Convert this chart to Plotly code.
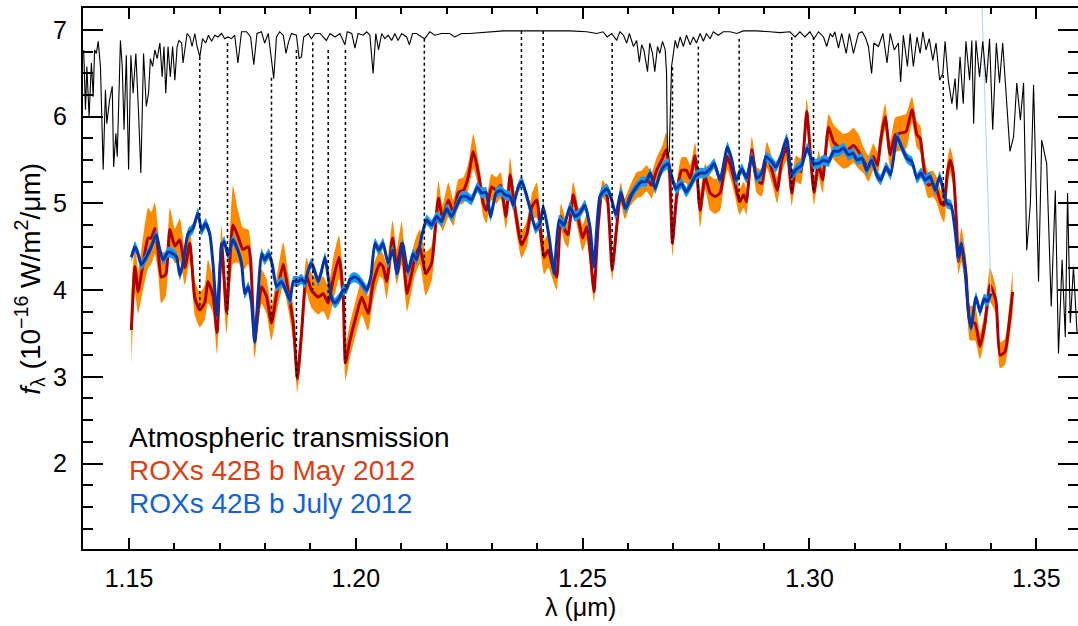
import plotly.graph_objects as go

# ---- data ----
# ROXs 42B b, May 2012 (red line, orange band)
MAY_WL = [1.1505, 1.1513, 1.1520, 1.1531, 1.1542, 1.1549, 1.1557, 1.1564, 1.1571, 1.1581,
          1.1590, 1.1601, 1.1612, 1.1623, 1.1634, 1.1645, 1.1656, 1.1667, 1.1674, 1.1685,
          1.1694, 1.1704, 1.1715, 1.1729, 1.1740, 1.1751, 1.1763, 1.1768, 1.1777, 1.1792,
          1.1803, 1.1814, 1.1825, 1.1840, 1.1851, 1.1862, 1.1871, 1.1880, 1.1891, 1.1902,
          1.1917, 1.1928, 1.1939, 1.1950, 1.1963, 1.1972, 1.1977, 1.1987, 1.2002, 1.2013,
          1.2027, 1.2038, 1.2053, 1.2060, 1.2068, 1.2081, 1.2090, 1.2101, 1.2113, 1.2123,
          1.2130, 1.2141, 1.2154, 1.2167, 1.2182, 1.2191, 1.2204, 1.2215, 1.2226, 1.2237,
          1.2248, 1.2259, 1.2270, 1.2281, 1.2288, 1.2299, 1.2310, 1.2319, 1.2331, 1.2340,
          1.2348, 1.2358, 1.2365, 1.2377, 1.2388, 1.2399, 1.2406, 1.2415, 1.2424, 1.2434,
          1.2443, 1.2452, 1.2461, 1.2468, 1.2479, 1.2490, 1.2500, 1.2509, 1.2516, 1.2525,
          1.2534, 1.2544, 1.2554, 1.2565, 1.2575, 1.2584, 1.2593, 1.2604, 1.2619, 1.2630,
          1.2641, 1.2652, 1.2663, 1.2676, 1.2684, 1.2691, 1.2698, 1.2707, 1.2718, 1.2729,
          1.2737, 1.2748, 1.2759, 1.2770, 1.2781, 1.2792, 1.2803, 1.2810, 1.2819, 1.2829,
          1.2836, 1.2846, 1.2855, 1.2861, 1.2873, 1.2884, 1.2895, 1.2906, 1.2919, 1.2929,
          1.2939, 1.2950, 1.2961, 1.2970, 1.2981, 1.2994, 1.3003, 1.3010, 1.3020, 1.3029,
          1.3042, 1.3053, 1.3064, 1.3075, 1.3086, 1.3097, 1.3108, 1.3119, 1.3130, 1.3141,
          1.3150, 1.3157, 1.3167, 1.3178, 1.3189, 1.3200, 1.3213, 1.3226, 1.3237, 1.3244,
          1.3253, 1.3262, 1.3272, 1.3281, 1.3290, 1.3297, 1.3303, 1.3310, 1.3317, 1.3325,
          1.3328, 1.3335, 1.3345, 1.3354, 1.3365, 1.3376, 1.3387, 1.3398, 1.3411, 1.3420,
          1.3431, 1.3441, 1.3448]
MAY_FLUX = [3.54, 4.27, 3.98, 4.31, 4.60, 4.60, 4.71, 4.46, 4.15, 4.18,
            4.70, 4.51, 4.58, 4.26, 4.54, 3.91, 3.77, 3.86, 4.10, 3.94,
            3.51, 4.54, 3.75, 4.75, 4.62, 4.47, 4.50, 4.35, 3.42, 4.04,
            3.93, 3.62, 3.94, 4.30, 3.98, 3.62, 2.98, 3.48, 4.17, 4.00,
            3.92, 3.96, 3.85, 4.12, 4.38, 3.95, 3.16, 3.42, 3.73, 3.92,
            3.73, 4.08, 4.31, 4.27, 4.10, 4.60, 4.27, 4.54, 3.96, 4.19,
            4.37, 4.50, 4.19, 4.31, 5.06, 4.83, 5.04, 4.89, 5.13, 5.15,
            5.31, 5.60, 5.35, 5.00, 4.92, 5.19, 5.15, 5.21, 4.85, 5.33,
            5.04, 4.69, 4.52, 4.65, 4.96, 5.04, 4.73, 4.38, 4.46, 4.27,
            4.15, 4.85, 4.69, 4.64, 5.10, 4.83, 4.60, 4.73, 4.46, 3.98,
            4.73, 5.17, 5.08, 4.23, 4.73, 5.12, 4.94, 5.08, 5.21, 5.23,
            5.29, 5.21, 5.38, 5.52, 5.62, 5.42, 4.54, 5.08, 5.38, 5.38,
            5.29, 5.55, 4.92, 5.31, 5.12, 5.08, 5.12, 5.31, 5.54, 5.38,
            5.23, 5.02, 5.10, 5.02, 5.62, 5.27, 5.23, 5.56, 5.35, 5.15,
            5.50, 5.65, 5.12, 5.40, 5.37, 6.06, 5.50, 5.13, 5.46, 5.27,
            5.88, 5.71, 5.65, 5.60, 5.62, 5.67, 5.60, 5.50, 5.40, 5.54,
            5.44, 5.73, 6.00, 5.56, 5.79, 5.81, 5.83, 6.08, 5.79, 5.75,
            5.38, 5.21, 5.23, 5.15, 5.00, 4.98, 5.31, 5.50, 5.35, 4.69,
            4.33, 4.52, 4.19, 3.62, 3.62, 3.35, 3.62, 4.06, 3.88, 3.25,
            3.29, 3.65, 3.98]
MAY_ERR = [0.40, 0.30, 0.25, 0.30, 0.35, 0.30, 0.30, 0.25, 0.30, 0.25,
           0.25, 0.20, 0.25, 0.20, 0.20, 0.20, 0.20, 0.20, 0.25, 0.20,
           0.25, 0.20, 0.25, 0.45, 0.30, 0.25, 0.20, 0.20, 0.20, 0.20,
           0.20, 0.20, 0.20, 0.25, 0.20, 0.20, 0.15, 0.20, 0.20, 0.20,
           0.20, 0.20, 0.20, 0.25, 0.25, 0.20, 0.20, 0.20, 0.20, 0.20,
           0.20, 0.20, 0.15, 0.15, 0.20, 0.20, 0.20, 0.25, 0.20, 0.20,
           0.20, 0.20, 0.25, 0.20, 0.20, 0.15, 0.20, 0.15, 0.15, 0.15,
           0.15, 0.20, 0.15, 0.15, 0.15, 0.15, 0.15, 0.15, 0.15, 0.20,
           0.15, 0.15, 0.15, 0.15, 0.15, 0.20, 0.20, 0.20, 0.20, 0.15,
           0.15, 0.15, 0.15, 0.15, 0.15, 0.15, 0.15, 0.15, 0.15, 0.12,
           0.12, 0.10, 0.10, 0.12, 0.12, 0.12, 0.12, 0.12, 0.15, 0.15,
           0.15, 0.15, 0.15, 0.15, 0.20, 0.15, 0.15, 0.15, 0.15, 0.15,
           0.15, 0.15, 0.20, 0.15, 0.20, 0.20, 0.20, 0.15, 0.15, 0.15,
           0.15, 0.15, 0.15, 0.15, 0.15, 0.15, 0.15, 0.15, 0.15, 0.15,
           0.15, 0.15, 0.15, 0.15, 0.15, 0.15, 0.15, 0.15, 0.15, 0.15,
           0.15, 0.20, 0.20, 0.20, 0.20, 0.20, 0.20, 0.15, 0.15, 0.15,
           0.15, 0.15, 0.15, 0.15, 0.20, 0.20, 0.20, 0.15, 0.15, 0.15,
           0.15, 0.15, 0.15, 0.15, 0.15, 0.20, 0.15, 0.15, 0.15, 0.15,
           0.15, 0.20, 0.20, 0.20, 0.20, 0.15, 0.15, 0.20, 0.15, 0.15,
           0.15, 0.20, 0.25]

# ROXs 42B b, July 2012 (blue line, light blue band)
JUL_WL = [1.1505, 1.1513, 1.1520, 1.1527, 1.1538, 1.1549, 1.1560, 1.1568, 1.1575, 1.1586,
          1.1597, 1.1605, 1.1612, 1.1619, 1.1630, 1.1641, 1.1652, 1.1660, 1.1669, 1.1678,
          1.1685, 1.1694, 1.1704, 1.1710, 1.1718, 1.1729, 1.1737, 1.1748, 1.1755, 1.1763,
          1.1770, 1.1777, 1.1785, 1.1792, 1.1799, 1.1808, 1.1816, 1.1825, 1.1836, 1.1847,
          1.1855, 1.1862, 1.1873, 1.1880, 1.1888, 1.1895, 1.1902, 1.1910, 1.1917, 1.1924,
          1.1932, 1.1939, 1.1947, 1.1954, 1.1965, 1.1972, 1.1980, 1.1987, 1.1996, 1.2005,
          1.2013, 1.2024, 1.2033, 1.2042, 1.2051, 1.2060, 1.2071, 1.2081, 1.2091, 1.2103,
          1.2115, 1.2126, 1.2134, 1.2145, 1.2156, 1.2167, 1.2178, 1.2189, 1.2200, 1.2211,
          1.2223, 1.2233, 1.2244, 1.2255, 1.2268, 1.2277, 1.2287, 1.2297, 1.2309, 1.2319,
          1.2329, 1.2340, 1.2347, 1.2358, 1.2366, 1.2377, 1.2385, 1.2396, 1.2406, 1.2413,
          1.2421, 1.2428, 1.2437, 1.2448, 1.2459, 1.2472, 1.2483, 1.2494, 1.2505, 1.2516,
          1.2525, 1.2538, 1.2553, 1.2562, 1.2573, 1.2584, 1.2595, 1.2608, 1.2619, 1.2630,
          1.2640, 1.2649, 1.2660, 1.2671, 1.2678, 1.2689, 1.2696, 1.2706, 1.2718, 1.2728,
          1.2738, 1.2748, 1.2759, 1.2770, 1.2781, 1.2790, 1.2803, 1.2819, 1.2829, 1.2838,
          1.2851, 1.2861, 1.2873, 1.2884, 1.2895, 1.2904, 1.2917, 1.2926, 1.2937, 1.2950,
          1.2961, 1.2972, 1.2983, 1.2995, 1.3009, 1.3020, 1.3031, 1.3042, 1.3053, 1.3064,
          1.3075, 1.3086, 1.3096, 1.3105, 1.3116, 1.3126, 1.3137, 1.3148, 1.3157, 1.3169,
          1.3179, 1.3193, 1.3204, 1.3215, 1.3226, 1.3237, 1.3246, 1.3255, 1.3266, 1.3277,
          1.3287, 1.3295, 1.3303, 1.3312, 1.3321, 1.3328, 1.3335, 1.3343, 1.3350, 1.3356,
          1.3367, 1.3376, 1.3385, 1.3392, 1.3400]
JUL_FLUX = [4.38, 4.50, 4.42, 4.29, 4.38, 4.50, 4.64, 4.46, 4.35, 4.44,
            4.42, 4.38, 4.17, 4.31, 4.65, 4.71, 4.89, 4.69, 4.77, 4.65,
            4.31, 3.71, 4.50, 4.56, 4.40, 4.58, 4.50, 4.31, 3.96, 4.04,
            3.85, 3.40, 4.00, 4.42, 4.35, 4.42, 4.29, 4.04, 4.10, 3.98,
            3.88, 4.10, 4.10, 4.13, 4.08, 4.23, 4.31, 4.21, 4.10, 4.21,
            4.38, 4.15, 3.90, 3.85, 3.92, 4.00, 4.02, 4.12, 4.15, 4.13,
            4.08, 4.00, 4.15, 4.54, 4.46, 4.54, 4.31, 4.46, 4.19, 4.54,
            4.21, 4.42, 4.35, 4.62, 4.81, 4.75, 4.85, 4.79, 4.94, 4.85,
            4.98, 5.08, 5.08, 5.04, 5.19, 5.12, 5.13, 4.85, 5.12, 5.15,
            5.10, 5.08, 4.98, 5.19, 5.25, 5.08, 4.92, 4.71, 4.77, 4.96,
            4.77, 4.54, 4.19, 4.81, 4.75, 4.96, 4.85, 4.89, 4.98, 4.73,
            4.27, 5.08, 5.17, 5.08, 4.87, 5.13, 4.94, 5.10, 5.19, 5.25,
            5.25, 5.35, 5.17, 5.35, 5.42, 5.46, 5.31, 5.17, 5.23, 5.13,
            5.21, 5.31, 5.35, 5.35, 5.40, 5.46, 5.27, 5.65, 5.50, 5.27,
            5.40, 5.29, 5.54, 5.29, 5.35, 5.54, 5.48, 5.42, 5.54, 5.75,
            5.33, 5.40, 5.44, 5.64, 5.46, 5.46, 5.50, 5.48, 5.60, 5.60,
            5.64, 5.56, 5.58, 5.50, 5.52, 5.38, 5.50, 5.33, 5.27, 5.42,
            5.33, 5.77, 5.64, 5.52, 5.48, 5.29, 5.35, 5.27, 5.31, 5.15,
            5.31, 5.15, 5.00, 4.98, 4.69, 4.38, 4.54, 4.23, 3.77, 3.56,
            3.92, 3.75, 3.90, 3.87, 3.96]
JUL_ERR = 0.06

# atmospheric transmission, scaled onto the flux axis
ATM_WL = [1.1400, 1.1404, 1.1407, 1.1412, 1.1417, 1.1421, 1.1424, 1.1428, 1.1432, 1.1437,
          1.1443, 1.1448, 1.1451, 1.1457, 1.1463, 1.1466, 1.1471, 1.1474, 1.1481, 1.1485,
          1.1489, 1.1494, 1.1499, 1.1504, 1.1509, 1.1515, 1.1521, 1.1526, 1.1532, 1.1538,
          1.1543, 1.1547, 1.1552, 1.1557, 1.1562, 1.1568, 1.1573, 1.1577, 1.1581, 1.1586,
          1.1591, 1.1596, 1.1601, 1.1606, 1.1610, 1.1616, 1.1619, 1.1625, 1.1628, 1.1634,
          1.1639, 1.1645, 1.1650, 1.1656, 1.1662, 1.1669, 1.1675, 1.1682, 1.1689, 1.1696,
          1.1704, 1.1711, 1.1718, 1.1726, 1.1733, 1.1740, 1.1748, 1.1759, 1.1768, 1.1775,
          1.1782, 1.1792, 1.1799, 1.1807, 1.1814, 1.1819, 1.1825, 1.1832, 1.1840, 1.1846,
          1.1851, 1.1858, 1.1869, 1.1875, 1.1880, 1.1885, 1.1895, 1.1902, 1.1910, 1.1921,
          1.1935, 1.1943, 1.1954, 1.1965, 1.1976, 1.1981, 1.1991, 1.1998, 1.2005, 1.2016,
          1.2024, 1.2031, 1.2038, 1.2044, 1.2050, 1.2057, 1.2064, 1.2071, 1.2079, 1.2086,
          1.2093, 1.2101, 1.2112, 1.2118, 1.2125, 1.2134, 1.2145, 1.2152, 1.2163, 1.2174,
          1.2189, 1.2207, 1.2218, 1.2233, 1.2251, 1.2274, 1.2296, 1.2325, 1.2362, 1.2413,
          1.2472, 1.2509, 1.2531, 1.2545, 1.2554, 1.2564, 1.2575, 1.2582, 1.2590, 1.2597,
          1.2603, 1.2612, 1.2619, 1.2625, 1.2630, 1.2635, 1.2643, 1.2648, 1.2654, 1.2659,
          1.2665, 1.2670, 1.2676, 1.2682, 1.2685, 1.2687, 1.2691, 1.2696, 1.2704, 1.2709,
          1.2715, 1.2722, 1.2729, 1.2737, 1.2744, 1.2751, 1.2759, 1.2766, 1.2773, 1.2781,
          1.2788, 1.2799, 1.2810, 1.2825, 1.2840, 1.2854, 1.2884, 1.2913, 1.2935, 1.2957,
          1.2968, 1.2979, 1.2990, 1.3001, 1.3010, 1.3020, 1.3031, 1.3038, 1.3046, 1.3051,
          1.3056, 1.3064, 1.3071, 1.3081, 1.3088, 1.3097, 1.3105, 1.3108, 1.3116, 1.3123,
          1.3130, 1.3137, 1.3142, 1.3152, 1.3162, 1.3171, 1.3178, 1.3187, 1.3196, 1.3201,
          1.3207, 1.3216, 1.3222, 1.3229, 1.3237, 1.3244, 1.3250, 1.3257, 1.3264, 1.3272,
          1.3279, 1.3287, 1.3294, 1.3299, 1.3306, 1.3314, 1.3321, 1.3325, 1.3332, 1.3339,
          1.3345, 1.3353, 1.3358, 1.3362, 1.3367, 1.3375, 1.3382, 1.3390, 1.3397, 1.3404,
          1.3412, 1.3419, 1.3426, 1.3435, 1.3442, 1.3450, 1.3457, 1.3465, 1.3472, 1.3479,
          1.3487, 1.3494, 1.3505, 1.3512, 1.3523, 1.3533, 1.3542, 1.3549, 1.3557, 1.3564,
          1.3569, 1.3575, 1.3582, 1.3590]
ATM_FLUX = [6.77, 6.08, 6.58, 6.00, 6.62, 6.23, 6.77, 6.73, 6.87, 6.58,
            5.39, 6.31, 5.92, 6.19, 6.35, 5.42, 5.81, 5.54, 6.88, 6.58,
            5.85, 6.71, 5.39, 6.71, 6.27, 6.73, 6.04, 5.35, 6.73, 6.12,
            6.27, 6.67, 6.58, 6.77, 6.67, 6.85, 6.46, 6.81, 6.27, 6.81,
            6.46, 6.81, 6.42, 6.81, 6.88, 6.85, 6.62, 6.88, 6.96, 6.92,
            6.81, 6.96, 6.81, 6.69, 6.90, 6.85, 6.94, 6.87, 6.94, 6.92,
            6.96, 6.90, 6.92, 6.90, 6.94, 6.62, 6.98, 6.98, 6.92, 6.60,
            6.96, 6.98, 6.85, 6.96, 6.69, 6.44, 6.92, 6.98, 6.94, 6.73,
            6.85, 6.96, 6.94, 6.67, 6.69, 6.92, 6.96, 6.90, 6.96, 6.96,
            6.88, 6.96, 6.92, 6.96, 6.83, 6.98, 6.96, 6.79, 6.96, 6.94,
            6.98, 6.94, 6.50, 6.96, 6.77, 6.96, 6.90, 6.94, 6.88, 6.96,
            6.88, 6.96, 6.92, 6.83, 6.96, 6.96, 6.92, 6.90, 6.98, 6.94,
            6.96, 6.96, 6.92, 6.96, 6.96, 6.97, 6.98, 6.99, 6.99, 6.99,
            6.99, 6.98, 6.96, 6.98, 6.92, 6.96, 6.88, 6.98, 6.94, 6.85,
            6.96, 6.81, 6.88, 6.63, 6.83, 6.77, 6.52, 6.85, 6.73, 6.52,
            6.81, 6.73, 6.87, 6.77, 6.50, 5.54, 5.60, 6.58, 6.88, 6.79,
            6.92, 6.81, 6.94, 6.83, 6.92, 6.85, 6.96, 6.87, 6.96, 6.90,
            6.98, 6.94, 6.98, 6.98, 6.96, 6.99, 6.99, 6.98, 6.97, 6.98,
            6.92, 6.98, 6.92, 6.98, 6.90, 6.98, 6.92, 6.81, 6.96, 6.92,
            6.98, 6.79, 6.96, 6.73, 6.96, 6.73, 6.88, 6.96, 6.98, 6.92,
            6.81, 6.50, 6.85, 6.81, 6.96, 6.62, 6.96, 6.77, 6.85, 6.40,
            6.94, 6.58, 6.96, 6.58, 6.92, 6.73, 6.98, 6.77, 6.90, 6.65,
            6.85, 6.42, 6.50, 6.87, 6.42, 6.15, 6.44, 6.08, 6.69, 6.15,
            6.87, 6.42, 6.88, 5.92, 6.88, 6.46, 6.87, 6.39, 6.90, 5.85,
            6.85, 6.39, 6.85, 6.19, 5.60, 5.77, 6.39, 5.96, 6.39, 4.46,
            5.00, 6.37, 4.10, 5.73, 5.46, 3.81, 5.15, 3.27, 4.35, 3.46,
            5.12, 3.62, 4.27, 3.50]

# telluric features: wavelength, top (on transmission) and bottom (on May spectrum)
TELLURIC_WL = [1.1656, 1.1717, 1.1814, 1.1869, 1.1905, 1.1939, 1.1977, 1.2151, 1.2365,
               1.2413, 1.2565, 1.2698, 1.2755, 1.2845, 1.2961, 1.3009, 1.3295]
TELLURIC_TOP = [6.69, 6.85, 6.45, 6.77, 6.86, 6.77, 6.77, 6.90, 6.99,
                6.99, 6.85, 6.57, 6.81, 6.90, 6.92, 6.92, 6.48]
TELLURIC_BOT = [3.77, 3.72, 3.62, 2.96, 4.00, 3.86, 3.16, 4.19, 4.55,
                4.38, 4.23, 4.54, 5.00, 5.02, 5.15, 5.15, 4.96]

# stray thin line running up from the end of the July spectrum
STRAY_WL = [1.3400, 1.3380]
STRAY_FLUX = [3.96, 7.35]

LEGEND_TEXT = ["Atmospheric transmission", "ROXs 42B b May 2012", "ROXs 42B b July 2012"]
LEGEND_COLORS = ["black", "#de3e12", "#1463d6"]

FONT = "Liberation Sans, Arial, Helvetica, sans-serif"

fig = go.Figure()

# May error band + line
fig.add_trace(go.Scatter(
    x=MAY_WL, y=[f - e for f, e in zip(MAY_FLUX, MAY_ERR)],
    mode='lines', line=dict(width=0, shape='spline', smoothing=0.5),
    hoverinfo='skip', showlegend=False
))
fig.add_trace(go.Scatter(
    x=MAY_WL, y=[f + e for f, e in zip(MAY_FLUX, MAY_ERR)],
    mode='lines', line=dict(width=0, shape='spline', smoothing=0.5),
    fill='tonexty', fillcolor='#ff8a00',
    hoverinfo='skip', showlegend=False
))
fig.add_trace(go.Scatter(
    x=MAY_WL, y=MAY_FLUX,
    mode='lines', line=dict(color='#b00000', width=3, shape='spline', smoothing=0.5),
    name='May 2012', showlegend=False
))

# July error band + line
fig.add_trace(go.Scatter(
    x=JUL_WL, y=[f - JUL_ERR for f in JUL_FLUX],
    mode='lines', line=dict(width=0, shape='spline', smoothing=0.5),
    hoverinfo='skip', showlegend=False
))
fig.add_trace(go.Scatter(
    x=JUL_WL, y=[f + JUL_ERR for f in JUL_FLUX],
    mode='lines', line=dict(width=0, shape='spline', smoothing=0.5),
    fill='tonexty', fillcolor='#1a9bf0',
    hoverinfo='skip', showlegend=False
))
fig.add_trace(go.Scatter(
    x=JUL_WL, y=JUL_FLUX,
    mode='lines', line=dict(color='#0635a8', width=3, shape='spline', smoothing=0.5),
    name='July 2012', showlegend=False
))

fig.add_trace(go.Scatter(
    x=STRAY_WL, y=STRAY_FLUX,
    mode='lines', line=dict(color='#a8d8f5', width=1),
    hoverinfo='skip', showlegend=False
))

# atmospheric transmission
fig.add_trace(go.Scatter(
    x=ATM_WL, y=ATM_FLUX,
    mode='lines', line=dict(color='black', width=1.1),
    name='Atmospheric transmission', showlegend=False
))

# dotted connectors for telluric features
tx, ty = [], []
for wl, top, bot in zip(TELLURIC_WL, TELLURIC_TOP, TELLURIC_BOT):
    tx += [wl, wl, None]
    ty += [top, bot, None]
fig.add_trace(go.Scatter(
    x=tx, y=ty, mode='lines',
    line=dict(color='black', width=1.5, dash='dot'),
    hoverinfo='skip', showlegend=False
))

# text legend
annotations = []
for i, (txt, col) in enumerate(zip(LEGEND_TEXT, LEGEND_COLORS)):
    annotations.append(dict(
        text=txt, xref='paper', yref='paper',
        x=0.044, y=0.207 - i * 0.061,
        xanchor='left', yanchor='middle', showarrow=False,
        font=dict(family=FONT, size=28, color=col)
    ))
annotations.append(dict(
    text='<i>f</i><sub>λ</sub> (10<sup>−16</sup> W/m<sup>2</sup>/μm)',
    xref='paper', yref='paper', x=-0.054, y=0.5, textangle=-90,
    xanchor='center', yanchor='middle', showarrow=False,
    font=dict(family=FONT, size=28, color='black')
))
annotations.append(dict(
    text='λ (μm)', xref='paper', yref='paper', x=0.5, y=-0.108,
    xanchor='center', yanchor='middle', showarrow=False,
    font=dict(family=FONT, size=25, color='black')
))

fig.update_layout(
    width=1078, height=626,
    margin=dict(l=83, r=0, t=8, b=77, autoexpand=False),
    paper_bgcolor='white', plot_bgcolor='white',
    font=dict(family=FONT, size=25, color='black'),
    showlegend=False,
    annotations=annotations,
    xaxis=dict(
        range=[1.13985, 1.3592], showgrid=False, zeroline=False, automargin=False,
        showline=True, linecolor='black', linewidth=2, mirror='ticks',
        ticks='inside', ticklen=11, tickwidth=2, tickcolor='black',
        tick0=1.15, dtick=0.05, tickformat='.2f', ticklabelstandoff=6,
        minor=dict(ticks='inside', ticklen=6, tickwidth=1.5, tickcolor='black', dtick=0.01),
    ),
    yaxis=dict(
        range=[1.014, 7.254], showgrid=False, zeroline=False, automargin=False,
        showline=True, linecolor='black', linewidth=2, mirror='ticks',
        ticks='inside', ticklen=20, tickwidth=2, tickcolor='black',
        tick0=0, dtick=1, ticklabelstandoff=9,
        minor=dict(ticks='inside', ticklen=10, tickwidth=1.5, tickcolor='black', dtick=0.25),
    ),
)

# the page's default body margin would shift the figure; drop it
fig.write_html("out.html", config={'displayModeBar': False},
               post_script="document.body.style.margin='0';")
